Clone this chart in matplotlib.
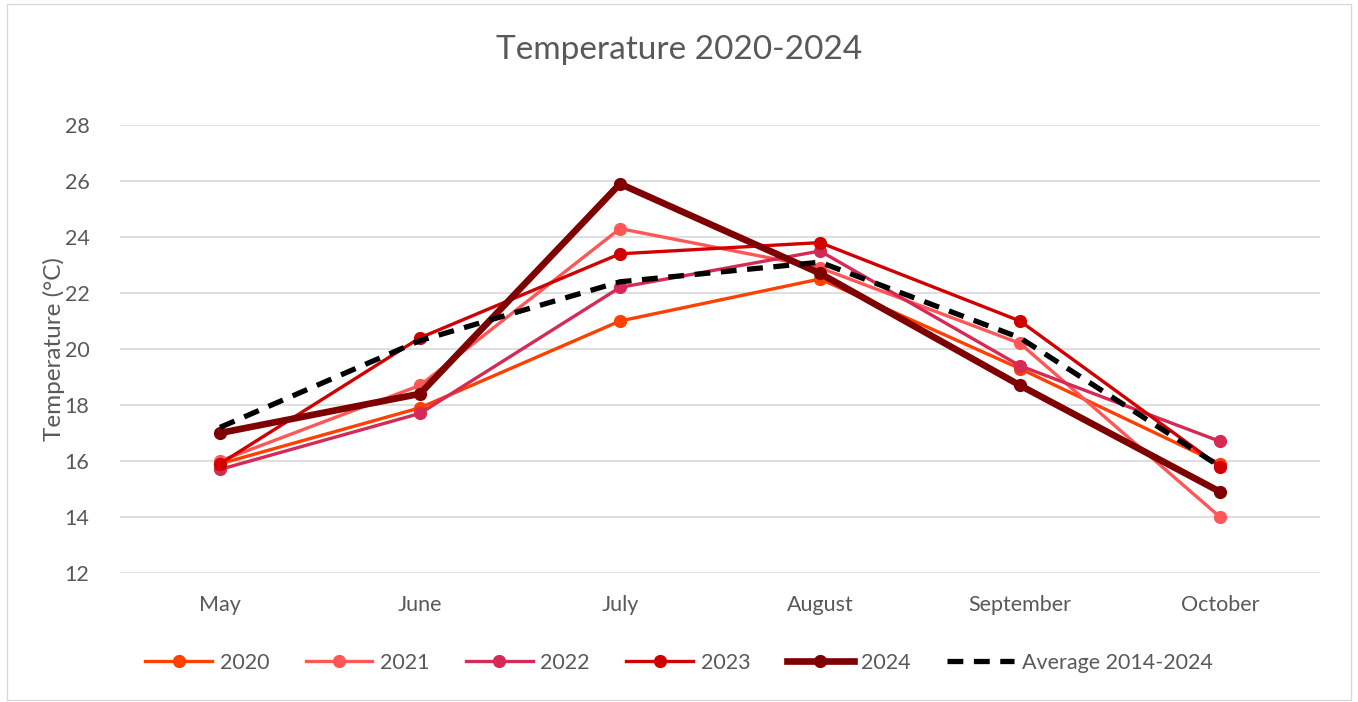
import numpy as np
import matplotlib
matplotlib.use("Agg")
from matplotlib import pyplot as plt
from matplotlib.patches import Rectangle

months = ["May", "June", "July", "August", "September", "October"]
t2020 = [15.9, 17.9, 21.0, 22.5, 19.3, 15.9]
t2021 = [16.0, 18.7, 24.3, 22.9, 20.2, 14.0]
t2022 = [15.7, 17.7, 22.2, 23.5, 19.4, 16.7]
t2023 = [15.9, 20.4, 23.4, 23.8, 21.0, 15.8]
t2024 = [17.0, 18.4, 25.9, 22.7, 18.7, 14.9]
avg = [17.2, 20.3, 22.4, 23.1, 20.4, 15.8]

plt.rcParams['font.family'] = ['Lato', 'DejaVu Sans']
grey = '#595959'

fig = plt.figure(figsize=(13.58, 7.02), dpi=100)
ax = fig.add_axes([120/1358, 1-573/702, 1200/1358, 448/702])

x = np.arange(len(months))
ax.plot(x, t2020, color='#FF4000', lw=2.4, marker='o', ms=8.5, label='2020', zorder=3)
ax.plot(x, t2021, color='#FF5757', lw=2.4, marker='o', ms=8.5, label='2021', zorder=3)
ax.plot(x, t2022, color='#D42A55', lw=2.4, marker='o', ms=8.5, label='2022', zorder=3)
ax.plot(x, t2023, color='#D00000', lw=2.4, marker='o', ms=8.5, label='2023', zorder=3)
ax.plot(x, t2024, color='#7F0000', lw=4.8, marker='o', ms=8.5, label='2024', zorder=4)
ax.plot(x, avg, color='black', lw=3.8, ls=(0, (3, 2)), label='Average 2014-2024', zorder=5)

ax.set_xlim(-0.5, 5.5)
ax.set_ylim(12, 28)
ax.set_yticks(np.arange(12, 29, 2))
ax.set_xticks(x)
ax.set_xticklabels(months)
ax.grid(axis='y', color='#D9D9D9', lw=1.2)
ax.set_axisbelow(True)
for s in ax.spines.values():
    s.set_visible(False)
ax.tick_params(length=0, labelsize=15.5, colors=grey, pad=16)
ax.tick_params(axis='y', pad=22)
ax.set_ylabel('Temperature (°C)', fontsize=17.5, color=grey, labelpad=0)

fig.text(0.5, 1-50/702, 'Temperature 2020-2024', ha='center', va='center', fontsize=24, color=grey)

leg = fig.legend(loc='center', bbox_to_anchor=(0.5, 1-663/702), ncol=6, frameon=False,
                 fontsize=15.5, handlelength=3.1, columnspacing=1.7, handletextpad=0.35)
for t in leg.get_texts():
    t.set_color(grey)

fig.patches.append(Rectangle((7/1358, 2/702), 1344/1358, 696/702, transform=fig.transFigure,
                             fill=False, edgecolor='#D9D9D9', lw=1))

fig.savefig('out.png', dpi=100, facecolor='white')
